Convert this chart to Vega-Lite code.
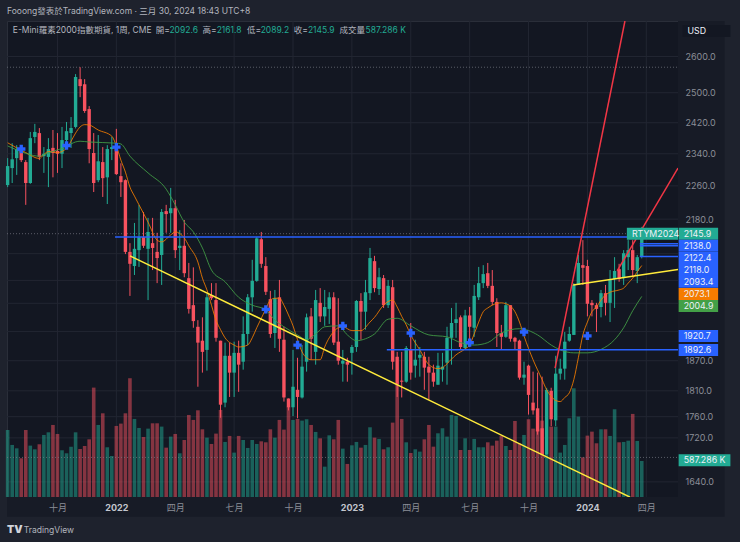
{
  "$schema": "https://vega.github.io/schema/vega-lite/v6.json",
  "width": 740,
  "height": 542,
  "autosize": {"type": "none", "contains": "padding"},
  "padding": {"left": 7, "top": 21, "right": 62, "bottom": 45},
  "background": "#1e222d",
  "datasets": {
    "bars": [
      {"date":"2021-07-19","open":2262,"high":2329,"low":2257,"close":2309,"volume":1093},
      {"date":"2021-07-26","open":2304,"high":2367,"low":2267,"close":2326,"volume":849},
      {"date":"2021-08-02","open":2329,"high":2362,"low":2287,"close":2352,"volume":794},
      {"date":"2021-08-09","open":2350,"high":2357,"low":2319,"close":2324,"volume":631},
      {"date":"2021-08-16","open":2319,"high":2324,"low":2214,"close":2267,"volume":1093},
      {"date":"2021-08-23","open":2267,"high":2396,"low":2265,"close":2380,"volume":838},
      {"date":"2021-08-30","open":2383,"high":2417,"low":2367,"close":2396,"volume":778},
      {"date":"2021-09-06","open":2393,"high":2406,"low":2324,"close":2332,"volume":860},
      {"date":"2021-09-13","open":2334,"high":2357,"low":2292,"close":2340,"volume":1012},
      {"date":"2021-09-20","open":2332,"high":2380,"low":2257,"close":2352,"volume":1055},
      {"date":"2021-09-27","open":2355,"high":2401,"low":2281,"close":2342,"volume":1175},
      {"date":"2021-10-04","open":2347,"high":2393,"low":2292,"close":2340,"volume":1028},
      {"date":"2021-10-11","open":2340,"high":2409,"low":2304,"close":2375,"volume":762},
      {"date":"2021-10-18","open":2375,"high":2422,"low":2355,"close":2398,"volume":713},
      {"date":"2021-10-25","open":2393,"high":2435,"low":2355,"close":2406,"volume":821},
      {"date":"2021-11-01","open":2409,"high":2551,"low":2405,"close":2543,"volume":1055},
      {"date":"2021-11-08","open":2537,"high":2570,"low":2488,"close":2518,"volume":783},
      {"date":"2021-11-15","open":2523,"high":2537,"low":2446,"close":2451,"volume":832},
      {"date":"2021-11-22","open":2456,"high":2464,"low":2316,"close":2352,"volume":941},
      {"date":"2021-11-29","open":2342,"high":2393,"low":2245,"close":2267,"volume":1784},
      {"date":"2021-12-06","open":2274,"high":2388,"low":2269,"close":2321,"volume":1175},
      {"date":"2021-12-13","open":2319,"high":2357,"low":2233,"close":2279,"volume":1365},
      {"date":"2021-12-20","open":2281,"high":2362,"low":2216,"close":2352,"volume":811},
      {"date":"2021-12-27","open":2352,"high":2383,"low":2324,"close":2357,"volume":669},
      {"date":"2022-01-03","open":2360,"high":2404,"low":2287,"close":2289,"volume":1159},
      {"date":"2022-01-10","open":2284,"high":2316,"low":2233,"close":2269,"volume":1197},
      {"date":"2022-01-17","open":2274,"high":2276,"low":2099,"close":2104,"volume":1365},
      {"date":"2022-01-24","open":2104,"high":2124,"low":2006,"close":2077,"volume":1937},
      {"date":"2022-01-31","open":2072,"high":2171,"low":2052,"close":2111,"volume":1273},
      {"date":"2022-02-07","open":2108,"high":2214,"low":2070,"close":2138,"volume":1126},
      {"date":"2022-02-14","open":2138,"high":2197,"low":2113,"close":2118,"volume":979},
      {"date":"2022-02-21","open":2111,"high":2183,"low":1997,"close":2150,"volume":1115},
      {"date":"2022-02-28","open":2124,"high":2183,"low":2063,"close":2113,"volume":1202},
      {"date":"2022-03-07","open":2104,"high":2148,"low":2034,"close":2090,"volume":1202},
      {"date":"2022-03-14","open":2097,"high":2204,"low":2030,"close":2197,"volume":1148},
      {"date":"2022-03-21","open":2199,"high":2214,"low":2148,"close":2192,"volume":805},
      {"date":"2022-03-28","open":2194,"high":2255,"low":2148,"close":2206,"volume":985},
      {"date":"2022-04-04","open":2206,"high":2226,"low":2090,"close":2108,"volume":1028},
      {"date":"2022-04-11","open":2113,"high":2154,"low":2063,"close":2118,"volume":713},
      {"date":"2022-04-18","open":2118,"high":2178,"low":2047,"close":2056,"volume":930},
      {"date":"2022-04-25","open":2045,"high":2079,"low":1968,"close":1978,"volume":1338},
      {"date":"2022-05-02","open":1986,"high":2069,"low":1938,"close":1952,"volume":1257},
      {"date":"2022-05-09","open":1940,"high":1954,"low":1818,"close":1907,"volume":1414},
      {"date":"2022-05-16","open":1911,"high":1960,"low":1846,"close":1888,"volume":1104},
      {"date":"2022-05-23","open":1892,"high":2010,"low":1850,"close":2003,"volume":968},
      {"date":"2022-05-30","open":2008,"high":2034,"low":1997,"close":2001,"volume":865},
      {"date":"2022-06-06","open":1997,"high":2034,"low":1909,"close":1917,"volume":1034},
      {"date":"2022-06-13","open":1911,"high":1911,"low":1758,"close":1783,"volume":1420},
      {"date":"2022-06-20","open":1787,"high":1907,"low":1778,"close":1880,"volume":898},
      {"date":"2022-06-27","open":1880,"high":1907,"low":1798,"close":1846,"volume":996},
      {"date":"2022-07-04","open":1846,"high":1909,"low":1798,"close":1886,"volume":724},
      {"date":"2022-07-11","open":1886,"high":1911,"low":1808,"close":1862,"volume":996},
      {"date":"2022-07-18","open":1868,"high":1962,"low":1852,"close":1925,"volume":930},
      {"date":"2022-07-25","open":1925,"high":2010,"low":1902,"close":2003,"volume":800},
      {"date":"2022-08-01","open":2003,"high":2086,"low":1972,"close":2039,"volume":930},
      {"date":"2022-08-08","open":2039,"high":2138,"low":2037,"close":2135,"volume":865},
      {"date":"2022-08-15","open":2133,"high":2150,"low":2068,"close":2077,"volume":908},
      {"date":"2022-08-22","open":2072,"high":2092,"low":2008,"close":2015,"volume":892},
      {"date":"2022-08-29","open":1999,"high":2017,"low":1917,"close":1925,"volume":1104},
      {"date":"2022-09-05","open":1927,"high":2019,"low":1896,"close":2001,"volume":968},
      {"date":"2022-09-12","open":2003,"high":2041,"low":1888,"close":1915,"volume":1257},
      {"date":"2022-09-19","open":1913,"high":1940,"low":1789,"close":1797,"volume":1099},
      {"date":"2022-09-26","open":1795,"high":1795,"low":1772,"close":1778,"volume":1474},
      {"date":"2022-10-03","open":1778,"high":1892,"low":1761,"close":1818,"volume":1257},
      {"date":"2022-10-10","open":1812,"high":1876,"low":1757,"close":1798,"volume":1273},
      {"date":"2022-10-17","open":1797,"high":1902,"low":1795,"close":1858,"volume":1246},
      {"date":"2022-10-24","open":1868,"high":1968,"low":1848,"close":1960,"volume":1268},
      {"date":"2022-10-31","open":1962,"high":1980,"low":1872,"close":1915,"volume":1175},
      {"date":"2022-11-07","open":1888,"high":2019,"low":1862,"close":1997,"volume":1061},
      {"date":"2022-11-14","open":1991,"high":2023,"low":1950,"close":1962,"volume":957},
      {"date":"2022-11-21","open":1962,"high":2019,"low":1942,"close":1982,"volume":495},
      {"date":"2022-11-28","open":1978,"high":2014,"low":1946,"close":2003,"volume":1006},
      {"date":"2022-12-05","open":2003,"high":2014,"low":1902,"close":1907,"volume":941},
      {"date":"2022-12-12","open":1909,"high":2001,"low":1862,"close":1870,"volume":1257},
      {"date":"2022-12-19","open":1864,"high":1892,"low":1828,"close":1870,"volume":789},
      {"date":"2022-12-26","open":1868,"high":1876,"low":1828,"close":1862,"volume":539},
      {"date":"2023-01-02","open":1886,"high":1902,"low":1842,"close":1898,"volume":843},
      {"date":"2023-01-09","open":1898,"high":1997,"low":1888,"close":1995,"volume":898},
      {"date":"2023-01-16","open":1995,"high":2012,"low":1913,"close":1972,"volume":805},
      {"date":"2023-01-23","open":1972,"high":2041,"low":1934,"close":2014,"volume":849},
      {"date":"2023-01-30","open":2012,"high":2113,"low":1997,"close":2090,"volume":1137},
      {"date":"2023-02-06","open":2083,"high":2095,"low":2014,"close":2023,"volume":968},
      {"date":"2023-02-13","open":2021,"high":2068,"low":2008,"close":2047,"volume":947},
      {"date":"2023-02-20","open":2045,"high":2052,"low":1980,"close":1986,"volume":778},
      {"date":"2023-02-27","open":1986,"high":2041,"low":1980,"close":2028,"volume":811},
      {"date":"2023-03-06","open":2025,"high":2041,"low":1852,"close":1868,"volume":1213},
      {"date":"2023-03-13","open":1878,"high":1888,"low":1798,"close":1822,"volume":1828},
      {"date":"2023-03-20","open":1830,"high":1888,"low":1797,"close":1828,"volume":1273},
      {"date":"2023-03-27","open":1828,"high":1900,"low":1826,"close":1896,"volume":892},
      {"date":"2023-04-03","open":1892,"high":1948,"low":1832,"close":1846,"volume":718},
      {"date":"2023-04-10","open":1860,"high":1913,"low":1836,"close":1872,"volume":778},
      {"date":"2023-04-17","open":1876,"high":1898,"low":1838,"close":1882,"volume":740},
      {"date":"2023-04-24","open":1878,"high":1888,"low":1812,"close":1856,"volume":941},
      {"date":"2023-05-01","open":1858,"high":1878,"low":1793,"close":1846,"volume":1175},
      {"date":"2023-05-08","open":1846,"high":1862,"low":1818,"close":1828,"volume":821},
      {"date":"2023-05-15","open":1822,"high":1886,"low":1822,"close":1860,"volume":1039},
      {"date":"2023-05-22","open":1852,"high":1886,"low":1828,"close":1858,"volume":1121},
      {"date":"2023-05-29","open":1866,"high":1940,"low":1822,"close":1917,"volume":985},
      {"date":"2023-06-05","open":1917,"high":1980,"low":1862,"close":1948,"volume":1338},
      {"date":"2023-06-12","open":1948,"high":1991,"low":1917,"close":1956,"volume":1322},
      {"date":"2023-06-19","open":1960,"high":1964,"low":1892,"close":1898,"volume":767},
      {"date":"2023-06-26","open":1896,"high":1976,"low":1892,"close":1964,"volume":957},
      {"date":"2023-07-03","open":1964,"high":1982,"low":1898,"close":1940,"volume":767},
      {"date":"2023-07-10","open":1938,"high":2030,"low":1919,"close":2006,"volume":947},
      {"date":"2023-07-17","open":2003,"high":2070,"low":1997,"close":2034,"volume":811},
      {"date":"2023-07-24","open":2034,"high":2074,"low":2023,"close":2054,"volume":811},
      {"date":"2023-07-31","open":2056,"high":2079,"low":2023,"close":2028,"volume":892},
      {"date":"2023-08-07","open":2028,"high":2063,"low":1986,"close":1993,"volume":838},
      {"date":"2023-08-14","open":1993,"high":2001,"low":1898,"close":1927,"volume":919},
      {"date":"2023-08-21","open":1927,"high":1944,"low":1892,"close":1919,"volume":1001},
      {"date":"2023-08-28","open":1919,"high":1993,"low":1917,"close":1986,"volume":832},
      {"date":"2023-09-04","open":1986,"high":1986,"low":1909,"close":1915,"volume":767},
      {"date":"2023-09-11","open":1917,"high":1919,"low":1892,"close":1909,"volume":1240},
      {"date":"2023-09-18","open":1911,"high":1913,"low":1832,"close":1836,"volume":876},
      {"date":"2023-09-25","open":1836,"high":1868,"low":1822,"close":1842,"volume":1012},
      {"date":"2023-10-02","open":1860,"high":1862,"low":1764,"close":1802,"volume":1268},
      {"date":"2023-10-09","open":1787,"high":1848,"low":1764,"close":1772,"volume":1115},
      {"date":"2023-10-16","open":1776,"high":1846,"low":1726,"close":1732,"volume":1104},
      {"date":"2023-10-23","open":1738,"high":1838,"low":1689,"close":1689,"volume":1246},
      {"date":"2023-10-30","open":1689,"high":1816,"low":1689,"close":1812,"volume":685},
      {"date":"2023-11-06","open":1810,"high":1816,"low":1742,"close":1755,"volume":1148},
      {"date":"2023-11-13","open":1753,"high":1880,"low":1742,"close":1844,"volume":1148},
      {"date":"2023-11-20","open":1844,"high":1874,"low":1832,"close":1854,"volume":724},
      {"date":"2023-11-27","open":1854,"high":1929,"low":1832,"close":1909,"volume":849},
      {"date":"2023-12-04","open":1911,"high":1940,"low":1909,"close":1925,"volume":1284},
      {"date":"2023-12-11","open":1923,"high":2034,"low":1923,"close":2030,"volume":1773},
      {"date":"2023-12-18","open":2030,"high":2097,"low":2030,"close":2079,"volume":1311},
      {"date":"2023-12-25","open":2074,"high":2131,"low":2030,"close":2068,"volume":647},
      {"date":"2024-01-01","open":2072,"high":2086,"low":1962,"close":1989,"volume":1001},
      {"date":"2024-01-08","open":1991,"high":1997,"low":1962,"close":1986,"volume":1066},
      {"date":"2024-01-15","open":1986,"high":1991,"low":1929,"close":1978,"volume":876},
      {"date":"2024-01-22","open":1982,"high":2019,"low":1960,"close":2012,"volume":1104},
      {"date":"2024-01-29","open":2012,"high":2030,"low":1964,"close":1991,"volume":1104},
      {"date":"2024-02-05","open":1991,"high":2063,"low":1950,"close":2043,"volume":996},
      {"date":"2024-02-12","open":2043,"high":2092,"low":1980,"close":2061,"volume":1431},
      {"date":"2024-02-19","open":2065,"high":2077,"low":2037,"close":2043,"volume":892},
      {"date":"2024-02-26","open":2045,"high":2108,"low":2030,"close":2101,"volume":898},
      {"date":"2024-03-04","open":2092,"high":2131,"low":2063,"close":2108,"volume":919},
      {"date":"2024-03-11","open":2108,"high":2131,"low":2047,"close":2063,"volume":1355},
      {"date":"2024-03-18","open":2061,"high":2097,"low":2034,"close":2092,"volume":914},
      {"date":"2024-03-25","open":2092.6,"high":2161.8,"low":2089.2,"close":2145.9,"volume":587.286}
    ],
    "averages": [
      {"kind":"fast","date":"2021-07-19","price":2368},{"kind":"fast","date":"2021-08-02","price":2355},{"kind":"fast","date":"2021-08-16","price":2343},
      {"kind":"fast","date":"2021-09-06","price":2328},{"kind":"fast","date":"2021-09-13","price":2338},{"kind":"fast","date":"2021-09-20","price":2346},
      {"kind":"fast","date":"2021-10-04","price":2343},{"kind":"fast","date":"2021-10-18","price":2354},{"kind":"fast","date":"2021-10-25","price":2372},
      {"kind":"fast","date":"2021-11-01","price":2393},{"kind":"fast","date":"2021-11-08","price":2409},{"kind":"fast","date":"2021-11-15","price":2415},
      {"kind":"fast","date":"2021-11-22","price":2414},{"kind":"fast","date":"2021-12-06","price":2401},{"kind":"fast","date":"2021-12-27","price":2385},
      {"kind":"fast","date":"2022-01-03","price":2360},{"kind":"fast","date":"2022-01-10","price":2324},{"kind":"fast","date":"2022-01-17","price":2294},
      {"kind":"fast","date":"2022-01-24","price":2257},{"kind":"fast","date":"2022-01-31","price":2235},{"kind":"fast","date":"2022-02-07","price":2214},
      {"kind":"fast","date":"2022-02-21","price":2173},{"kind":"fast","date":"2022-03-07","price":2131},{"kind":"fast","date":"2022-03-14","price":2127},
      {"kind":"fast","date":"2022-03-28","price":2143},{"kind":"fast","date":"2022-04-04","price":2150},{"kind":"fast","date":"2022-04-18","price":2136},
      {"kind":"fast","date":"2022-04-25","price":2118},{"kind":"fast","date":"2022-05-09","price":2081},{"kind":"fast","date":"2022-05-16","price":2045},
      {"kind":"fast","date":"2022-05-23","price":2019},{"kind":"fast","date":"2022-05-30","price":1986},{"kind":"fast","date":"2022-06-06","price":1954},
      {"kind":"fast","date":"2022-06-13","price":1934},{"kind":"fast","date":"2022-06-20","price":1917},{"kind":"fast","date":"2022-07-04","price":1902},
      {"kind":"fast","date":"2022-07-11","price":1898},{"kind":"fast","date":"2022-07-25","price":1902},{"kind":"fast","date":"2022-08-01","price":1917},
      {"kind":"fast","date":"2022-08-08","price":1938},{"kind":"fast","date":"2022-08-15","price":1958},{"kind":"fast","date":"2022-08-22","price":1978},
      {"kind":"fast","date":"2022-08-29","price":1997},{"kind":"fast","date":"2022-09-05","price":2001},{"kind":"fast","date":"2022-09-12","price":2001},
      {"kind":"fast","date":"2022-09-19","price":1986},{"kind":"fast","date":"2022-09-26","price":1965},{"kind":"fast","date":"2022-10-03","price":1942},
      {"kind":"fast","date":"2022-10-10","price":1913},{"kind":"fast","date":"2022-10-17","price":1888},{"kind":"fast","date":"2022-10-24","price":1876},
      {"kind":"fast","date":"2022-10-31","price":1872},{"kind":"fast","date":"2022-11-14","price":1872},{"kind":"fast","date":"2022-11-21","price":1898},
      {"kind":"fast","date":"2022-11-28","price":1917},{"kind":"fast","date":"2022-12-05","price":1930},{"kind":"fast","date":"2022-12-12","price":1938},
      {"kind":"fast","date":"2022-12-19","price":1940},{"kind":"fast","date":"2023-01-02","price":1932},{"kind":"fast","date":"2023-01-16","price":1932},
      {"kind":"fast","date":"2023-01-30","price":1950},{"kind":"fast","date":"2023-02-06","price":1960},{"kind":"fast","date":"2023-02-20","price":1986},
      {"kind":"fast","date":"2023-03-06","price":1997},{"kind":"fast","date":"2023-03-13","price":1982},{"kind":"fast","date":"2023-03-20","price":1962},
      {"kind":"fast","date":"2023-03-27","price":1944},{"kind":"fast","date":"2023-04-03","price":1923},{"kind":"fast","date":"2023-04-17","price":1892},
      {"kind":"fast","date":"2023-05-01","price":1862},{"kind":"fast","date":"2023-05-15","price":1854},{"kind":"fast","date":"2023-05-22","price":1856},
      {"kind":"fast","date":"2023-05-29","price":1864},{"kind":"fast","date":"2023-06-12","price":1882},{"kind":"fast","date":"2023-06-26","price":1894},
      {"kind":"fast","date":"2023-07-03","price":1902},{"kind":"fast","date":"2023-07-10","price":1925},{"kind":"fast","date":"2023-07-17","price":1950},
      {"kind":"fast","date":"2023-07-24","price":1972},{"kind":"fast","date":"2023-07-31","price":1980},{"kind":"fast","date":"2023-08-07","price":1986},
      {"kind":"fast","date":"2023-08-21","price":1991},{"kind":"fast","date":"2023-08-28","price":1989},{"kind":"fast","date":"2023-09-04","price":1984},
      {"kind":"fast","date":"2023-09-11","price":1972},{"kind":"fast","date":"2023-09-18","price":1950},{"kind":"fast","date":"2023-09-25","price":1921},
      {"kind":"fast","date":"2023-10-09","price":1872},{"kind":"fast","date":"2023-10-23","price":1832},{"kind":"fast","date":"2023-10-30","price":1812},
      {"kind":"fast","date":"2023-11-06","price":1799},{"kind":"fast","date":"2023-11-13","price":1791},{"kind":"fast","date":"2023-11-20","price":1789},
      {"kind":"fast","date":"2023-11-27","price":1797},{"kind":"fast","date":"2023-12-04","price":1806},{"kind":"fast","date":"2023-12-11","price":1832},
      {"kind":"fast","date":"2023-12-18","price":1876},{"kind":"fast","date":"2023-12-25","price":1923},{"kind":"fast","date":"2024-01-01","price":1950},
      {"kind":"fast","date":"2024-01-08","price":1972},{"kind":"fast","date":"2024-01-15","price":1982},{"kind":"fast","date":"2024-01-22","price":1997},
      {"kind":"fast","date":"2024-01-29","price":2008},{"kind":"fast","date":"2024-02-05","price":2014},{"kind":"fast","date":"2024-02-19","price":2019},
      {"kind":"fast","date":"2024-02-26","price":2023},{"kind":"fast","date":"2024-03-04","price":2034},{"kind":"fast","date":"2024-03-11","price":2045},
      {"kind":"fast","date":"2024-03-18","price":2059},{"kind":"fast","date":"2024-03-25","price":2073.1},
      {"kind":"slow","date":"2021-07-19","price":2360},{"kind":"slow","date":"2021-08-02","price":2350},{"kind":"slow","date":"2021-09-06","price":2334},
      {"kind":"slow","date":"2021-09-13","price":2338},{"kind":"slow","date":"2021-10-04","price":2350},{"kind":"slow","date":"2021-10-18","price":2357},
      {"kind":"slow","date":"2021-10-25","price":2365},{"kind":"slow","date":"2021-11-08","price":2372},{"kind":"slow","date":"2021-11-22","price":2370},
      {"kind":"slow","date":"2022-01-03","price":2367},{"kind":"slow","date":"2022-01-10","price":2365},{"kind":"slow","date":"2022-01-24","price":2334},
      {"kind":"slow","date":"2022-02-21","price":2292},{"kind":"slow","date":"2022-03-21","price":2252},{"kind":"slow","date":"2022-04-04","price":2214},
      {"kind":"slow","date":"2022-04-18","price":2173},{"kind":"slow","date":"2022-05-02","price":2150},{"kind":"slow","date":"2022-05-16","price":2113},
      {"kind":"slow","date":"2022-05-30","price":2063},{"kind":"slow","date":"2022-06-20","price":2037},{"kind":"slow","date":"2022-07-11","price":2003},
      {"kind":"slow","date":"2022-08-01","price":1986},{"kind":"slow","date":"2022-08-22","price":1976},{"kind":"slow","date":"2022-09-05","price":1954},
      {"kind":"slow","date":"2022-09-19","price":1940},{"kind":"slow","date":"2022-10-10","price":1923},{"kind":"slow","date":"2022-10-24","price":1913},
      {"kind":"slow","date":"2022-11-07","price":1925},{"kind":"slow","date":"2022-11-21","price":1940},{"kind":"slow","date":"2022-12-12","price":1942},
      {"kind":"slow","date":"2022-12-26","price":1923},{"kind":"slow","date":"2023-01-09","price":1911},{"kind":"slow","date":"2023-01-23","price":1915},
      {"kind":"slow","date":"2023-02-06","price":1925},{"kind":"slow","date":"2023-02-27","price":1956},{"kind":"slow","date":"2023-03-13","price":1958},
      {"kind":"slow","date":"2023-04-03","price":1942},{"kind":"slow","date":"2023-05-01","price":1923},{"kind":"slow","date":"2023-05-29","price":1919},
      {"kind":"slow","date":"2023-06-19","price":1907},{"kind":"slow","date":"2023-07-10","price":1902},{"kind":"slow","date":"2023-07-31","price":1907},
      {"kind":"slow","date":"2023-08-21","price":1927},{"kind":"slow","date":"2023-09-18","price":1936},{"kind":"slow","date":"2023-10-16","price":1923},
      {"kind":"slow","date":"2023-11-06","price":1902},{"kind":"slow","date":"2023-11-20","price":1892},{"kind":"slow","date":"2023-12-11","price":1886},
      {"kind":"slow","date":"2024-01-01","price":1886},{"kind":"slow","date":"2024-01-22","price":1893},{"kind":"slow","date":"2024-02-12","price":1913},
      {"kind":"slow","date":"2024-02-26","price":1938},{"kind":"slow","date":"2024-03-11","price":1974},{"kind":"slow","date":"2024-03-25","price":2004.9}
    ],
    "trends": [
      {"line":"a","kind":"red","date":"2023-11-12","price":1855},{"line":"a","kind":"red","date":"2024-02-28","price":2702},
      {"line":"b","kind":"red","date":"2024-02-16","price":2061},{"line":"b","kind":"red","date":"2024-05-20","price":2304},
      {"line":"c","kind":"yellow","date":"2022-01-24","price":2095},{"line":"c","kind":"yellow","date":"2024-03-07","price":1613},
      {"line":"d","kind":"yellow","date":"2023-12-10","price":2030},{"line":"d","kind":"yellow","date":"2024-05-20","price":2064}
    ],
    "levels": [
      {"price":2138,"date":"2022-01-01","until":"2024-05-20"},
      {"price":2122.4,"date":"2024-03-22","until":"2024-05-20"},
      {"price":2118,"date":"2024-03-22","until":"2024-05-20"},
      {"price":2093.4,"date":"2024-03-22","until":"2024-05-20"},
      {"price":1892.6,"date":"2023-02-25","until":"2024-05-20"}
    ],
    "dotted": [
      {"price":2570,"date":"2021-07-18","until":"2024-05-20"},
      {"price":2145.9,"date":"2021-07-18","until":"2024-05-20"},
      {"price":1684,"date":"2021-07-18","until":"2024-05-20"}
    ],
    "gridTimes": [
      {"date":"2021-10-04"},{"date":"2022-01-03"},{"date":"2022-04-04"},{"date":"2022-07-04"},{"date":"2022-10-03"},{"date":"2023-01-02"},
      {"date":"2023-04-03"},{"date":"2023-07-03"},{"date":"2023-10-02"},{"date":"2024-01-01"},{"date":"2024-04-01"}
    ],
    "gridPrices": [
      {"price":2600,"date":"2021-07-18","until":"2024-05-20"},{"price":2500,"date":"2021-07-18","until":"2024-05-20"},
      {"price":2420,"date":"2021-07-18","until":"2024-05-20"},{"price":2340,"date":"2021-07-18","until":"2024-05-20"},
      {"price":2260,"date":"2021-07-18","until":"2024-05-20"},{"price":2180,"date":"2021-07-18","until":"2024-05-20"},
      {"price":2100,"date":"2021-07-18","until":"2024-05-20"},{"price":2040,"date":"2021-07-18","until":"2024-05-20"},
      {"price":1990,"date":"2021-07-18","until":"2024-05-20"},{"price":1930,"date":"2021-07-18","until":"2024-05-20"},
      {"price":1870,"date":"2021-07-18","until":"2024-05-20"},{"price":1810,"date":"2021-07-18","until":"2024-05-20"},
      {"price":1760,"date":"2021-07-18","until":"2024-05-20"},{"price":1720,"date":"2021-07-18","until":"2024-05-20"},
      {"price":1640,"date":"2021-07-18","until":"2024-05-20"}
    ],
    "panes": [
      {"date":"2024-05-20","until":"2024-07-31","low":1579,"high":2702},
      {"date":"2021-07-18","until":"2024-05-20","low":1579,"high":1613.3}
    ],
    "crosses": [
      {"date":"2021-08-09","price":2352},{"date":"2021-10-18","price":2361},{"date":"2022-01-03","price":2357},
      {"date":"2022-08-22","price":1977},{"date":"2022-10-10","price":1902},{"date":"2022-12-19","price":1942},
      {"date":"2023-04-03","price":1927},{"date":"2023-07-03","price":1907},{"date":"2023-09-25","price":1929},
      {"date":"2024-01-01","price":1921}
    ],
    "tags": [
      {"label":"RTYM2024","at":2146,"kind":"last","date":"2024-03-02","until":"2024-05-20"},
      {"label":"2145.9","at":2146,"kind":"last","date":"2024-05-21","until":"2024-07-21"},
      {"label":"2138.0","at":2118,"kind":"alert","date":"2024-05-21","until":"2024-07-21"},
      {"label":"2122.4","at":2090,"kind":"alert","date":"2024-05-21","until":"2024-07-21"},
      {"label":"2118.0","at":2063,"kind":"alert","date":"2024-05-21","until":"2024-07-21"},
      {"label":"2093.4","at":2037,"kind":"alert","date":"2024-05-21","until":"2024-07-21"},
      {"label":"2073.1","at":2010,"kind":"fast","date":"2024-05-21","until":"2024-07-21"},
      {"label":"2004.9","at":1984,"kind":"slow","date":"2024-05-21","until":"2024-07-21"},
      {"label":"1920.7","at":1921,"kind":"alert","date":"2024-05-21","until":"2024-07-21"},
      {"label":"1892.6","at":1892,"kind":"alert","date":"2024-05-21","until":"2024-07-21"},
      {"label":"587.286 K","at":1679,"kind":"last","date":"2024-05-21","until":"2024-08-09"},
      {"label":"USD","at":2673,"kind":"box","date":"2024-05-27","until":"2024-08-09"}
    ],
    "notes": [
      {"text":"Fooong發表於TradingView.com · 三月 30, 2024 18:43 UTC+8","date":"2021-07-18","at":2731,"kind":"label"},
      {"text":"E-Mini羅素2000指數期貨, 1周, CME","date":"2021-07-27","at":2676,"kind":"label"},
      {"text":"開=","date":"2022-03-05","at":2676,"kind":"label"},
      {"text":"2092.6","date":"2022-03-26","at":2676,"kind":"last"},
      {"text":"高=","date":"2022-05-16","at":2676,"kind":"label"},
      {"text":"2161.8","date":"2022-06-07","at":2676,"kind":"last"},
      {"text":"低=","date":"2022-07-24","at":2676,"kind":"label"},
      {"text":"2089.2","date":"2022-08-14","at":2676,"kind":"last"},
      {"text":"收=","date":"2022-10-04","at":2676,"kind":"label"},
      {"text":"2145.9","date":"2022-10-26","at":2676,"kind":"last"},
      {"text":"成交量","date":"2022-12-14","at":2676,"kind":"label"},
      {"text":"587.286 K","date":"2023-01-23","at":2676,"kind":"last"},
      {"text":"TradingView","date":"2021-08-13","at":1557,"kind":"label"}
    ]
  },
  "encoding": {
    "x": {
      "field": "date",
      "type": "temporal",
      "title": null,
      "scale": {
        "type": "utc",
        "padding": 0,
        "domain": [
          {"year": 2021, "month": 7, "date": 18, "utc": true},
          {"year": 2024, "month": 5, "date": 20, "utc": true}
        ]
      },
      "axis": {
        "title": null,
        "values": [
          {"year": 2021, "month": 10, "date": 4, "utc": true},
          {"year": 2022, "month": 1, "date": 3, "utc": true},
          {"year": 2022, "month": 4, "date": 4, "utc": true},
          {"year": 2022, "month": 7, "date": 4, "utc": true},
          {"year": 2022, "month": 10, "date": 3, "utc": true},
          {"year": 2023, "month": 1, "date": 2, "utc": true},
          {"year": 2023, "month": 4, "date": 3, "utc": true},
          {"year": 2023, "month": 7, "date": 3, "utc": true},
          {"year": 2023, "month": 10, "date": 2, "utc": true},
          {"year": 2024, "month": 1, "date": 1, "utc": true},
          {"year": 2024, "month": 4, "date": 1, "utc": true}
        ],
        "labelExpr": "utcmonth(datum.value)==0?''+utcyear(datum.value):utcmonth(datum.value)==3?'四月':utcmonth(datum.value)==6?'七月':'十月'",
        "labelFontWeight": {"condition": {"test": "utcmonth(datum.value)==0", "value": 700}, "value": 400},
        "labelColor": {"condition": {"test": "utcmonth(datum.value)==0", "value": "#c3c6ce"}, "value": "#8b8e97"},
        "grid": false,
        "ticks": false,
        "tickSize": 0,
        "domain": false,
        "zindex": 1,
        "labelPadding": 10,
        "labelBaseline": "middle",
        "labelAlign": "center",
        "labelFontSize": 9,
        "labelOverlap": false,
        "labelFlush": false
      }
    }
  },
  "resolve": {"scale": {"y": "independent"}, "axis": {"y": "independent"}},
  "layer": [
    {
      "data": {"name": "gridPrices"},
      "mark": {"type": "rule", "color": "#222632", "strokeWidth": 1},
      "encoding": {
        "x2": {"field": "until"},
        "y": {
          "field": "price",
          "type": "quantitative",
          "axis": null,
          "scale": {"type": "log", "domain": [1613.3, 2702], "nice": false, "zero": false}
        }
      }
    },
    {
      "data": {"name": "gridTimes"},
      "mark": {"type": "rule", "color": "#222632", "strokeWidth": 1}
    },
    {
      "data": {"name": "bars"},
      "mark": {"type": "bar", "size": 3.6, "opacity": 0.5},
      "encoding": {
        "y": {
          "field": "volume",
          "type": "quantitative",
          "stack": null,
          "axis": null,
          "scale": {"domain": [0, 7763], "nice": false, "zero": true}
        },
        "color": {"condition": {"test": "datum.close>=datum.open", "value": "#22ab94"}, "value": "#f7525f"}
      }
    },
    {
      "layer": [
        {
          "data": {"name": "panes"},
          "mark": {"type": "rect", "color": "#171b26"},
          "encoding": {
            "x2": {"field": "until"},
            "y": {
              "field": "low",
              "type": "quantitative",
              "title": null,
              "scale": {"type": "log", "domain": [1613.3, 2702], "nice": false, "zero": false},
              "axis": {
                "orient": "right",
                "title": null,
                "values": [2600, 2500, 2420, 2340, 2260, 2180, 2100, 2040, 1990, 1930, 1870, 1810, 1760, 1720, 1640],
                "labelExpr": "indexof([2100,2040,1990,1930],datum.value)>=0?'':format(datum.value,'.1f')",
                "grid": false,
                "ticks": false,
                "tickSize": 0,
                "domain": false,
                "zindex": 1,
                "labelColor": "#8b8e97",
                "labelAlign": "left",
                "labelBaseline": "middle",
                "labelPadding": 7,
                "labelFontSize": 9,
                "labelOverlap": false,
                "labelFlush": false
              }
            },
            "y2": {"field": "high"}
          }
        },
        {
          "data": {"name": "dotted"},
          "mark": {"type": "rule", "color": "#787b86", "strokeDash": [1, 2], "opacity": 0.7},
          "encoding": {
            "x2": {"field": "until"},
            "y": {"field": "price", "type": "quantitative"}
          }
        },
        {
          "data": {"name": "bars"},
          "mark": {"type": "rule", "strokeWidth": 1},
          "encoding": {
            "y": {"field": "low", "type": "quantitative"},
            "y2": {"field": "high"},
            "color": {"condition": {"test": "datum.close>=datum.open", "value": "#22ab94"}, "value": "#f7525f"}
          }
        },
        {
          "data": {"name": "bars"},
          "mark": {"type": "bar", "size": 3.4},
          "encoding": {
            "y": {"field": "open", "type": "quantitative"},
            "y2": {"field": "close"},
            "color": {"condition": {"test": "datum.close>=datum.open", "value": "#22ab94"}, "value": "#f7525f"}
          }
        },
        {
          "data": {"name": "averages"},
          "mark": {"type": "line", "strokeWidth": 1, "interpolate": "monotone", "opacity": 0.85},
          "encoding": {
            "y": {"field": "price", "type": "quantitative"},
            "color": {
              "field": "kind",
              "type": "nominal",
              "legend": null,
              "scale": {
                "domain": ["last", "alert", "fast", "slow", "red", "yellow", "label", "box"],
                "range": ["#22ab94", "#2962ff", "#f57c00", "#43a047", "#f23645", "#ffeb3b", "#b2b5be", "#131722"]
              }
            }
          }
        },
        {
          "data": {"name": "levels"},
          "mark": {"type": "rule", "color": "#2962ff", "strokeWidth": 1.5},
          "encoding": {
            "x2": {"field": "until"},
            "y": {"field": "price", "type": "quantitative"}
          }
        },
        {
          "data": {"name": "trends"},
          "mark": {"type": "line", "strokeWidth": 1.5, "clip": true},
          "encoding": {
            "y": {"field": "price", "type": "quantitative"},
            "detail": {"field": "line", "type": "nominal"},
            "color": {
              "field": "kind",
              "type": "nominal",
              "legend": null,
              "scale": {
                "domain": ["last", "alert", "fast", "slow", "red", "yellow", "label", "box"],
                "range": ["#22ab94", "#2962ff", "#f57c00", "#43a047", "#f23645", "#ffeb3b", "#b2b5be", "#131722"]
              }
            }
          }
        },
        {
          "data": {"name": "crosses"},
          "mark": {"type": "point", "shape": "cross", "filled": true, "size": 70, "color": "#2962ff", "opacity": 1},
          "encoding": {"y": {"field": "price", "type": "quantitative"}}
        },
        {
          "data": {"name": "tags"},
          "mark": {"type": "rule", "strokeWidth": 12},
          "encoding": {
            "x2": {"field": "until"},
            "y": {"field": "at", "type": "quantitative"},
            "color": {
              "field": "kind",
              "type": "nominal",
              "legend": null,
              "scale": {
                "domain": ["last", "alert", "fast", "slow", "red", "yellow", "label", "box"],
                "range": ["#22ab94", "#2962ff", "#f57c00", "#43a047", "#f23645", "#ffeb3b", "#b2b5be", "#131722"]
              }
            }
          }
        },
        {
          "data": {"name": "tags"},
          "mark": {"type": "text", "align": "left", "baseline": "middle", "fontSize": 8.8, "dx": 5, "color": "#eef1f8"},
          "encoding": {
            "y": {"field": "at", "type": "quantitative"},
            "text": {"field": "label"}
          }
        },
        {
          "data": {"name": "notes"},
          "mark": {"type": "text", "align": "left", "baseline": "middle", "fontSize": 8.5},
          "encoding": {
            "y": {"field": "at", "type": "quantitative"},
            "text": {"field": "text"},
            "color": {
              "field": "kind",
              "type": "nominal",
              "legend": null,
              "scale": {
                "domain": ["last", "alert", "fast", "slow", "red", "yellow", "label", "box"],
                "range": ["#22ab94", "#2962ff", "#f57c00", "#43a047", "#f23645", "#ffeb3b", "#b2b5be", "#131722"]
              }
            }
          }
        },
        {
          "data": {"values": [{"logo": "TV", "date": "2021-07-18", "at": 1557}]},
          "mark": {"type": "text", "align": "left", "baseline": "middle", "fontSize": 10.5, "fontWeight": 900, "color": "#d1d4dc"},
          "encoding": {
            "y": {"field": "at", "type": "quantitative"},
            "text": {"field": "logo"}
          }
        }
      ]
    }
  ],
  "config": {
    "font": "Inter, \"Noto Sans CJK TC\", sans-serif",
    "view": {"fill": "#131722", "stroke": "#2a2e39"},
    "axis": {"labelFont": "Inter, \"Noto Sans CJK TC\", sans-serif"}
  }
}
